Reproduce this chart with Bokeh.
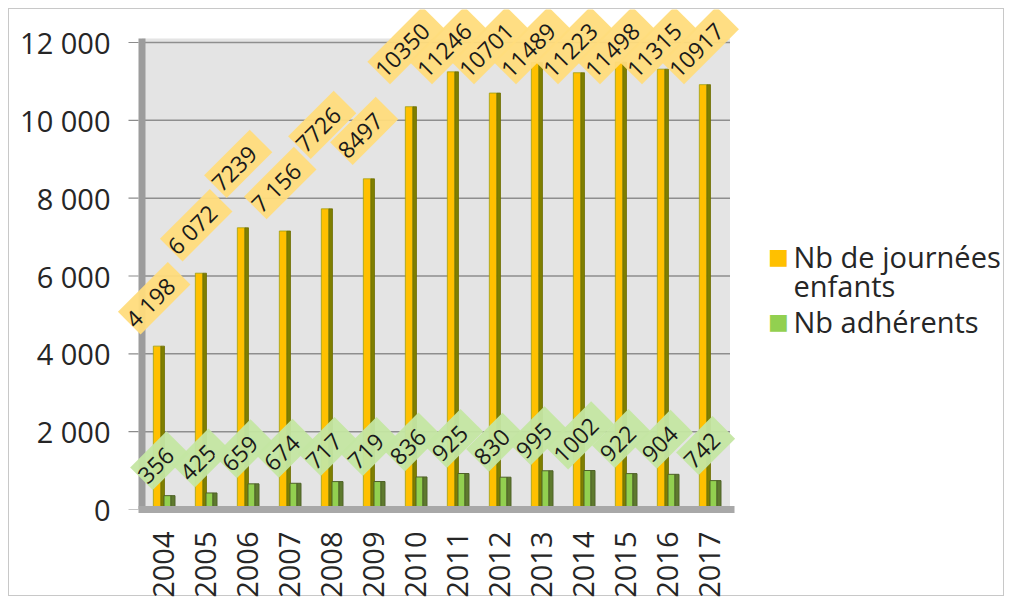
import math
from bokeh.plotting import figure
from bokeh.models import (Range1d, FixedTicker, CustomJSTickFormatter, LabelSet,
                          Label, ColumnDataSource)
from bokeh.transform import dodge
from bokeh.core.properties import value
from bokeh.embed import file_html
from bokeh.resources import INLINE

# ---- data ----
years = ["2004", "2005", "2006", "2007", "2008", "2009", "2010",
         "2011", "2012", "2013", "2014", "2015", "2016", "2017"]
journees = [4198, 6072, 7239, 7156, 7726, 8497, 10350,
            11246, 10701, 11489, 11223, 11498, 11315, 10917]
journees_labels = ["4 198", "6 072", "7239", "7 156", "7726", "8497", "10350",
                   "11246", "10701", "11489", "11223", "11498", "11315", "10917"]
adherents = [356, 425, 659, 674, 717, 719, 836, 925, 830, 995, 1002, 922, 904, 742]
adherents_labels = [str(v) for v in adherents]
y_ticks = [0, 2000, 4000, 6000, 8000, 10000, 12000]
series_names = ["Nb de journées", "enfants", "Nb adhérents"]

FONT = "Open Sans"
TXT = "#262626"
N = len(years)

# ---- layout constants (pixels) ----
LEFT, TOP = 116, 9           # frame origin
UNIT_X = 42.0                # px per category
WALL_PX = 141.5              # left edge of first category
FRAME_W, FRAME_H = 894, 500
ZERO_Y = TOP + FRAME_H       # pixel row of value 0
PX_PER_VAL = 467.0 / 12000   # 0 -> 509, 12000 -> 42

x_start = -0.5 - (WALL_PX - LEFT) / UNIT_X
x_end = x_start + FRAME_W / UNIT_X
y_end = FRAME_H / PX_PER_VAL


def px_to_y(py):
    return (ZERO_Y - py) / PX_PER_VAL


def val_to_py(v):
    return ZERO_Y - v * PX_PER_VAL


def px_to_x(px):
    return x_start + (px - LEFT) / UNIT_X


# ---- place the rotated value labels above the bars, avoiding overlaps ----
J_DX = -0.21          # label shift (categories)
LIFT_PX = 48          # label centre above the bar top
TOP_PX = 45           # highest allowed label centre
SNAP_PX = 16          # labels this close to the top are aligned on it
BOX_H = 28


def box_len(s):
    return 13 * len(s) + 12


placed = []
jy = []
for i, (v, s) in enumerate(zip(journees, journees_labels)):
    cx = WALL_PX + (i + 0.5 + J_DX) * UNIT_X
    cy = val_to_py(v) - LIFT_PX
    if cy <= TOP_PX + SNAP_PX:
        cy = TOP_PX
    else:
        for _ in range(40):
            hit = False
            for (px_, py_, ls) in placed[-2:]:
                dx, dy = cx - px_, cy - py_
                along = (dx - dy) / math.sqrt(2)
                perp = (dx + dy) / math.sqrt(2)
                if abs(along) < (box_len(s) + ls) / 2 and abs(perp) < BOX_H:
                    hit = True
            if not hit:
                break
            cy -= 4
        cy = max(cy, TOP_PX)
    placed.append((cx, cy, box_len(s)))
    jy.append(px_to_y(cy))

idx = list(range(N))
src = ColumnDataSource(dict(
    x=idx,
    j=journees,
    a=adherents,
    jlab=[" %s " % s for s in journees_labels],
    alab=[" %s " % s for s in adherents_labels],
    jy=jy,
    ay=[v + 900 for v in adherents],
))

p = figure(frame_width=FRAME_W, frame_height=FRAME_H,
           min_border_left=LEFT, min_border_right=2,
           min_border_top=TOP, min_border_bottom=95,
           x_range=Range1d(x_start, x_end), y_range=Range1d(0, y_end),
           output_backend="svg", toolbar_location=None)
p.styles = {"background": "white",
            "box-shadow": "inset 0 0 0 8px white, inset 0 0 0 9px #C8C8C8"}
p.background_fill_color = None
p.border_fill_color = None
p.outline_line_color = None
p.xgrid.grid_line_color = None
p.ygrid.grid_line_color = None

# back wall, side wall, grid lines, tick marks
p.quad(left=-0.5, right=N - 0.5, bottom=0, top=12100,
       fill_color="#E4E4E4", line_color=None)
p.segment(x0=-0.5, x1=N - 0.5, y0=y_ticks, y1=y_ticks,
          line_color="#8E8E8E", line_width=1.5)
p.quad(left=px_to_x(138), right=px_to_x(145), bottom=0, top=12100,
       fill_color="#9C9C9C", line_color=None)
p.segment(x0=px_to_x(128), x1=px_to_x(138), y0=y_ticks, y1=y_ticks,
          line_color="#8C8C8C", line_width=1.2)

# y axis (labels only; wall and ticks drawn above)
p.yaxis.ticker = FixedTicker(ticks=y_ticks)
p.yaxis.bounds = (0, 12000)
p.yaxis.formatter = CustomJSTickFormatter(
    code="return tick.toFixed(0).replace(/\\B(?=(\\d{3})+(?!\\d))/g, ' ');")
p.yaxis.axis_line_color = None
p.yaxis.major_tick_line_color = None
p.yaxis.minor_tick_line_color = None
p.yaxis.major_label_text_font = FONT
p.yaxis.major_label_text_font_size = "29px"
p.yaxis.major_label_text_color = TXT
p.yaxis.major_label_standoff = 0

# x axis (thick line = floor)
p.xaxis.ticker = FixedTicker(ticks=idx)
p.xaxis.bounds = (px_to_x(138), N - 0.4)
p.xaxis.major_label_overrides = {i: y for i, y in zip(idx, years)}
p.xaxis.axis_line_color = "#A8A8A8"
p.xaxis.axis_line_width = 7
p.xaxis.major_tick_line_color = None
p.xaxis.minor_tick_line_color = None
p.xaxis.major_label_orientation = math.pi / 2
p.xaxis.major_label_text_font = FONT
p.xaxis.major_label_text_font_size = "29px"
p.xaxis.major_label_text_color = TXT
p.xaxis.major_label_standoff = 16

# bars (pseudo 3D: face + darker side)
p.vbar(x=dodge("x", -0.14), top="j", width=0.18, bottom=0, source=src,
       fill_color="#FFC000", line_color="#A0A010", line_width=0.8)
p.vbar(x=dodge("x", -0.007), top="j", width=0.085, bottom=0, source=src,
       fill_color="#7F7F00", line_color="#6F6F00", line_width=0.8)
p.vbar(x=dodge("x", 0.107), top="a", width=0.167, bottom=0, source=src,
       fill_color="#92D050", line_color="#4F6228", line_width=1)
p.vbar(x=dodge("x", 0.238), top="a", width=0.095, bottom=0, source=src,
       fill_color="#5E7A2E", line_color="#4F6228", line_width=1)

# value labels
p.add_layout(LabelSet(x=dodge("x", J_DX), y="jy", text="jlab", source=src,
                      angle=45, angle_units="deg", text_align="center",
                      text_baseline="middle", text_font=value(FONT),
                      text_font_size="23px", text_color="#1A1A1A",
                      background_fill_color="#FFDC7C", background_fill_alpha=0.95))
p.add_layout(LabelSet(x=dodge("x", -0.08), y="ay", text="alab", source=src,
                      angle=45, angle_units="deg", text_align="center",
                      text_baseline="middle", text_font=value(FONT),
                      text_font_size="23px", text_color="#1A1A1A",
                      background_fill_color="#C4E6A2", background_fill_alpha=0.95))

# legend (placed right of the chart, in data coordinates)
p.add_layout(Label(x=px_to_x(778), y=px_to_y(256), text="■", text_align="center",
                   text_baseline="middle", text_color="#FFC000",
                   text_font="DejaVu Sans", text_font_size="22px"))
p.add_layout(Label(x=px_to_x(778), y=px_to_y(321), text="■", text_align="center",
                   text_baseline="middle", text_color="#92D050",
                   text_font="DejaVu Sans", text_font_size="22px"))
for name, py in zip(series_names, [256, 285, 321]):
    p.add_layout(Label(x=px_to_x(793), y=px_to_y(py), text=name,
                       text_baseline="middle", text_align="left",
                       text_font=FONT, text_font_size="29px", text_color=TXT))

open("out.html", "w").write(file_html(p, INLINE))
